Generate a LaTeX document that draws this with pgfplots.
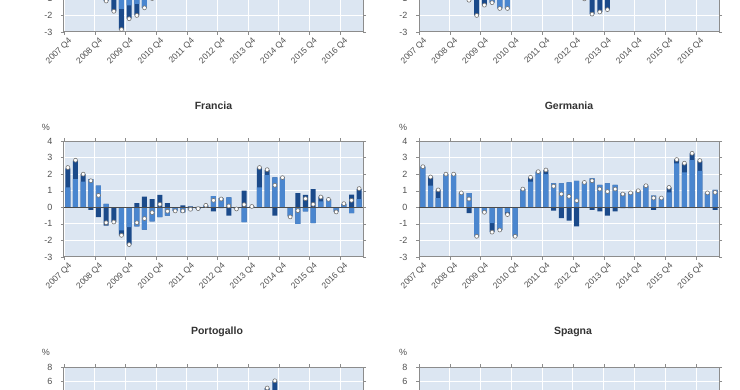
\documentclass[border=0pt]{standalone}
\usepackage{pgfplots}
\pgfplotsset{compat=1.18}
\usepackage{pgfplotstable}
\usepackage{fontspec}
\setmainfont{Liberation Sans}
\definecolor{bgc}{HTML}{DCE6F2}
\definecolor{darkb}{HTML}{1B4A8A}
\definecolor{medb}{HTML}{4A86CF}
\definecolor{framec}{HTML}{8C8C8C}
\definecolor{txtc}{HTML}{505050}

% top-left panel (only its lower part is visible)
\pgfplotstableread{
i med dark tot
5 -0.6 -0.53 -1.13
6 -0.8 -0.95 -1.75
7 -1.6 -1.25 -2.85
8 -1.4 -0.8 -2.2
9 -1.3 -0.7 -2.0
10 -1.54 0 -1.54
11 -0.98 0 -0.98
}\tlpanel

% top-right panel (only its lower part is visible)
\pgfplotstableread{
i med dark tot
6 -0.5 -0.58 -1.08
7 -0.8 -1.2 -2.0
8 -0.6 -0.78 -1.38
9 -1.23 0 -1.23
10 -1.58 0 -1.58
11 -1.58 0 -1.58
21 -0.5 -0.5 -1.0
22 -0.6 -1.32 -1.92
23 -0.7 -1.09 -1.79
24 -1.0 -0.65 -1.65
}\trpanel

\pgfplotstableread{
i med dark tot
0 1.2 1.15 2.4
1 1.7 1.1 2.84
2 1.55 0.45 2.0
3 1.7 -0.15 1.6
4 1.3 -0.6 0.72
5 0.2 -1.1 -0.93
6 0 -0.9 -0.89
7 -1.4 -0.3 -1.69
8 -1.2 -1.05 -2.25
9 -1.15 0.25 -0.93
10 -1.35 0.65 -0.68
11 -0.85 0.5 -0.32
12 -0.6 0.75 0.18
13 -0.5 0.25 -0.24
14 -0.22 0 -0.22
15 -0.3 0.12 -0.22
16 -0.17 0.05 -0.12
17 -0.1 0.02 -0.08
18 0.1 0.02 0.12
19 0.67 -0.25 0.42
20 0.55 -0.05 0.5
21 0.6 -0.5 0.08
22 -0.1 0 -0.1
23 -0.9 1.0 0.16
24 0.05 0 0.05
25 1.2 1.2 2.4
26 1.95 0.3 2.27
27 1.8 -0.5 1.33
28 1.8 0 1.79
29 -0.55 0 -0.58
30 -1.0 0.85 -0.2
31 -0.25 0.75 0.52
32 -0.95 1.1 0.18
33 0.35 0.3 0.62
34 0.48 0 0.48
35 -0.18 -0.1 -0.28
36 0.2 0 0.22
37 -0.35 0.77 0.42
38 0.5 0.6 1.13
}\francia

\pgfplotstableread{
i med dark tot
0 2.45 0 2.45
1 1.3 0.53 1.83
2 0.55 0.5 1.05
3 2.0 0 2.0
4 2.0 0 2.0
5 0.87 0 0.87
6 0.85 -0.35 0.5
7 -1.75 0 -1.75
8 -0.3 0 -0.3
9 -0.95 -0.55 -1.5
10 -1.37 0 -1.37
11 -0.3 -0.15 -0.44
12 -1.75 0 -1.75
13 1.1 0 1.1
14 1.55 0.25 1.81
15 2.15 0 2.15
16 2.0 0.25 2.25
17 1.45 -0.2 1.27
18 1.45 -0.65 0.8
19 1.5 -0.8 0.66
20 1.6 -1.15 0.4
21 1.5 0 1.5
22 1.75 -0.15 1.6
23 1.35 -0.25 1.1
24 1.45 -0.5 0.95
25 1.35 -0.25 1.1
26 0.85 -0.05 0.8
27 0.9 -0.05 0.87
28 1.0 0 1.0
29 1.3 0 1.3
30 0.7 -0.15 0.56
31 0.56 0 0.56
32 0.9 0.3 1.2
33 2.65 0.25 2.88
34 2.1 0.55 2.66
35 2.85 0.4 3.26
36 2.2 0.6 2.82
37 0.87 0 0.87
38 1.05 -0.15 0.9
}\germania

\pgfplotstableread{
i med dark tot
26 3.0 2.1 5.1
27 2.0 4.1 6.1
}\portogallo

\pgfplotsset{
  mybar/.style={ybar, bar width=5pt, bar shift=0pt, fill=#1, draw=none},
  panel/.style={
    scale only axis,
    width=299pt, height=116pt,
    xmin=-0.5, xmax=38.5,
    ymin=-3, ymax=4, ytick={-3,-2,...,4},
    xtick={-0.5,3.5,...,35.5},
    xticklabels={2007 Q4,2008 Q4,2009 Q4,2010 Q4,2011 Q4,2012 Q4,2013 Q4,2014 Q4,2015 Q4,2016 Q4},
    xticklabel style={rotate=45, anchor=north east, font=\fontsize{8.5}{9}\selectfont, text=txtc, inner sep=1pt, xshift=2.5pt, yshift=-3pt},
    yticklabel style={font=\fontsize{9}{10}\selectfont, text=txtc, xshift=-5pt},
    axis background/.style={fill=bgc},
    grid=major,
    major grid style={white, line width=0.8pt},
    axis line style={framec, line width=1pt},
    tick style={framec},
    tick align=outside,
    major tick length=3pt,
    /pgf/number format/assume math mode=true,
  },
  toppanel/.style={panel, ytick={-3,-2,-1}, extra y ticks={0,1,2,3,4}, extra y tick labels={}},
  botpanel/.style={panel, ymin=-8, ymax=8, ytick={6,8}, extra y ticks={-8,-6,-4,-2,0,2,4}, extra y tick labels={}, xticklabels={}},
}

\newcommand{\drawbars}[1]{%
  \addplot[mybar=darkb] table[x=i, y expr={max(\thisrow{med},0)+max(\thisrow{dark},0)}] {#1};
  \addplot[mybar=medb] table[x=i, y expr={max(\thisrow{med},0)}] {#1};
  \addplot[mybar=darkb] table[x=i, y expr={min(\thisrow{med},0)+min(\thisrow{dark},0)}] {#1};
  \addplot[mybar=medb] table[x=i, y expr={min(\thisrow{med},0)}] {#1};
  \addplot[black!70, line width=0.6pt] coordinates {(-0.5,0) (38.5,0)};
  \addplot[only marks, mark=*, mark size=2pt, mark options={fill=white, draw=black!55, line width=0.6pt}] table[x=i, y=tot] {#1};
}

\begin{document}
\begin{tikzpicture}[x=1pt,y=1pt]
% top row (cut off)
\begin{axis}[toppanel, at={(64pt,357pt)}, anchor=south west]
\drawbars{\tlpanel}
\end{axis}
\begin{axis}[toppanel, width=300pt, at={(419pt,357pt)}, anchor=south west]
\drawbars{\trpanel}
\end{axis}
% middle row
\begin{axis}[panel, at={(64pt,132pt)}, anchor=south west]
\drawbars{\francia}
\end{axis}
\begin{axis}[panel, width=300pt, at={(419pt,132pt)}, anchor=south west]
\drawbars{\germania}
\end{axis}
% bottom row (cut off)
\begin{axis}[botpanel, at={(64pt,22pt)}, anchor=north west]
\drawbars{\portogallo}
\end{axis}
\begin{axis}[botpanel, width=300pt, at={(419pt,22pt)}, anchor=north west]
\end{axis}

\node[font=\bfseries\fontsize{10.5}{11}\selectfont, text=black!80] at (213.5pt,283pt) {Francia};
\node[font=\bfseries\fontsize{10.5}{11}\selectfont, text=black!80] at (569pt,283pt) {Germania};
\node[font=\bfseries\fontsize{10.5}{11}\selectfont, text=black!80] at (217pt,57pt) {Portogallo};
\node[font=\bfseries\fontsize{10.5}{11}\selectfont, text=black!80] at (573pt,57pt) {Spagna};
\node[font=\fontsize{9}{10}\selectfont, text=txtc] at (46pt,262pt) {\%};
\node[font=\fontsize{9}{10}\selectfont, text=txtc] at (403pt,262pt) {\%};
\node[font=\fontsize{9}{10}\selectfont, text=txtc] at (46pt,37pt) {\%};
\node[font=\fontsize{9}{10}\selectfont, text=txtc] at (403pt,37pt) {\%};

\pgfresetboundingbox
\path[use as bounding box] (0pt,0pt) rectangle (740pt,389pt);
\end{tikzpicture}
\end{document}
